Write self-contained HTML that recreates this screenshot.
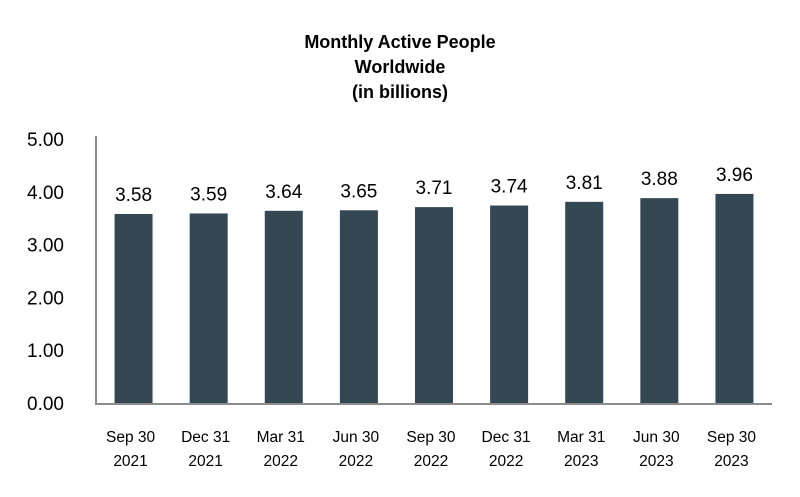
<!DOCTYPE html>
<html><head><meta charset="utf-8"><style>
body{margin:0;background:#fff;width:800px;height:492px;overflow:hidden;font-family:"Liberation Sans",sans-serif;}
</style></head><body>
<svg width="800" height="492" xmlns="http://www.w3.org/2000/svg">
<g id="title" font-weight="bold" font-size="18" text-anchor="middle" fill="#000">
<text x="400" y="48">Monthly Active People</text>
<text x="400" y="73">Worldwide</text>
<text x="400" y="98">(in billions)</text>
</g>
<g id="plot"></g>
</svg>
<script>
const categories=[["Sep 30","2021"],["Dec 31","2021"],["Mar 31","2022"],["Jun 30","2022"],["Sep 30","2022"],["Dec 31","2022"],["Mar 31","2023"],["Jun 30","2023"],["Sep 30","2023"]];
const values=[3.58,3.59,3.64,3.65,3.71,3.74,3.81,3.88,3.96];
const labels=["3.58","3.59","3.64","3.65","3.71","3.74","3.81","3.88","3.96"];
const ticks=[0,1,2,3,4,5];
const tickLabels=["0.00","1.00","2.00","3.00","4.00","5.00"];
const NS="http://www.w3.org/2000/svg";
const g=document.getElementById('plot');
const x0=96,x1=772,y0=403,pxPerUnit=52.8;
const step=(x1-x0)/categories.length;
const y=v=>y0-v*pxPerUnit;
const xc=i=>x0+step*(i+0.5);
function mk(t,a){const e=document.createElementNS(NS,t);for(const k in a)e.setAttribute(k,a[k]);g.appendChild(e);return e;}
ticks.forEach((t,i)=>{
 const e=mk('text',{x:64,y:y(t)+7,'text-anchor':'end','font-size':19,fill:'#000'});
 e.textContent=tickLabels[i];
 
 
});
values.forEach((v,i)=>{
 const r=mk('rect',{x:xc(i)-19,y:y(v),width:38,height:y0-y(v),fill:'#344853'});
 
 
 const t=mk('text',{x:xc(i),y:y(v)-13,'text-anchor':'middle','font-size':19,fill:'#000'});
 t.textContent=labels[i];
 
 
 categories[i].forEach((s,j)=>{
  const c=mk('text',{x:xc(i)-3,y:442+j*24,'text-anchor':'middle','font-size':15.5,fill:'#000'});
  c.textContent=s;
  
  
 });
});
const ya=mk('line',{x1:x0,y1:136,x2:x0,y2:y0+1,stroke:'#8c8c8c','stroke-width':2});


const xa=mk('line',{x1:x0-1,y1:y0+1,x2:x1,y2:y0+1,stroke:'#8c8c8c','stroke-width':2});


</script>
</body></html>
